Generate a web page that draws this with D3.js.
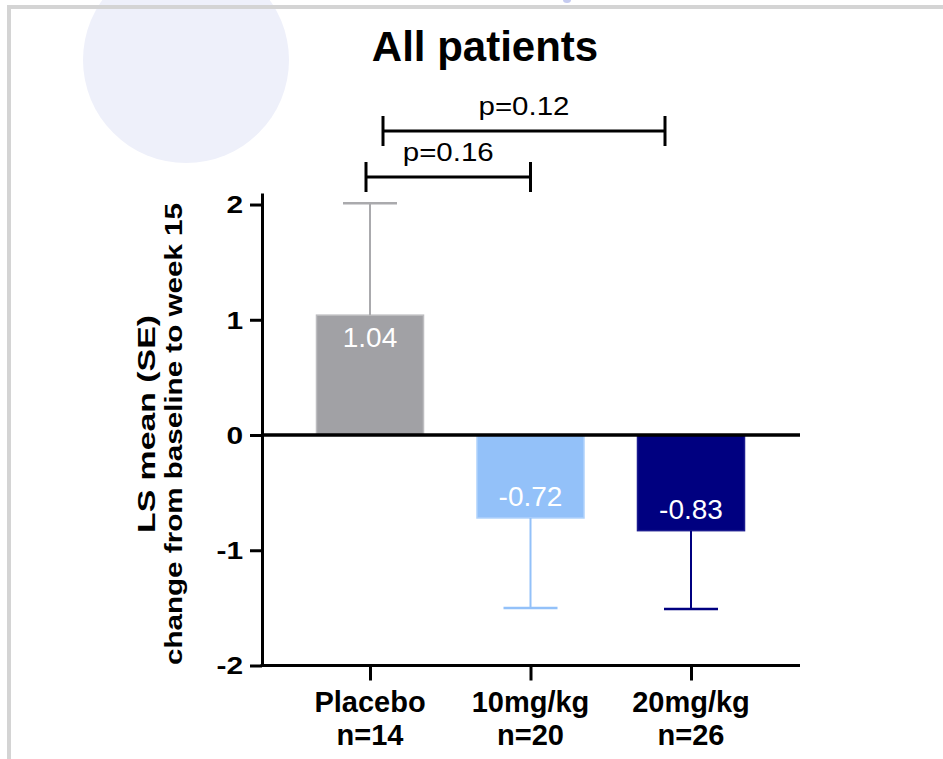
<!DOCTYPE html>
<html>
<head>
<meta charset="utf-8">
<script src="https://cdn.jsdelivr.net/npm/d3@7"></script>
<style>
  body { margin: 0; background: #fff; }
  svg { display: block; font-family: "Liberation Sans", Arial, sans-serif; }
</style>
</head>
<body>
<svg id="chart" width="943" height="759"></svg>
<script>
// data
const groups = ["Placebo", "10mg/kg", "20mg/kg"];
const nLabels = ["n=14", "n=20", "n=26"];
const means = [1.04, -0.72, -0.83];
const se = [0.97, 0.78, 0.68];
const yTicks = [-2, -1, 0, 1, 2];
const pLabels = ["p=0.12", "p=0.16"];
const pFrom = [0, 0];
const pTo = [2, 1];

const barColors = ["#a1a1a5", "#93c1f9", "#000080"];
const barEdge = ["#bdbdc0", "#b0d2fb", "#1b1b8f"];
const errColors = ["#aaaaad", "#93c1f9", "#000080"];

const svg = d3.select("#chart");

// background decoration: lavender disc + grey frame
svg.append("circle").attr("cx", 186).attr("cy", 60).attr("r", 103).attr("fill", "#eef0fa");
svg.append("ellipse").attr("cx", 567).attr("cy", 0).attr("rx", 4).attr("ry", 3).attr("fill", "#c5cbf0");
svg.append("rect").attr("x", 7).attr("y", 5).attr("width", 936).attr("height", 4).attr("fill", "#d4d4d4");
svg.append("rect").attr("x", 7).attr("y", 5).attr("width", 4).attr("height", 754).attr("fill", "#d4d4d4");

// scales
const y = d3.scaleLinear().domain([-2, 2.1]).range([665.5, 193]);
const x = d3.scalePoint().domain(groups).range([370, 691]);
const barW = 107;
const axisX = 262;
const axisRight = 800;

// title
svg.append("text")
  .attr("x", 485).attr("y", 61)
  .attr("text-anchor", "middle")
  .style("font-size", "42px").style("font-weight", "bold")
  .text("All patients");

// bars
svg.selectAll(".bar")
  .data(groups)
  .enter()
  .append("rect")
  .attr("class", "bar")
  .attr("x", (d) => x(d) - barW / 2)
  .attr("width", barW)
  .attr("y", (d, i) => y(Math.max(0, means[i])))
  .attr("height", (d, i) => Math.abs(y(means[i]) - y(0)))
  .attr("fill", (d, i) => barColors[i])
  .attr("stroke", (d, i) => barEdge[i])
  .attr("stroke-width", 1.5);

// error bars (one-sided, away from zero)
const errEnd = (i) => means[i] + Math.sign(means[i]) * se[i];
const err = svg.selectAll(".err").data(groups).enter().append("g").attr("class", "err");
err.append("line")
  .attr("x1", (d) => x(d)).attr("x2", (d) => x(d))
  .attr("y1", (d, i) => y(means[i])).attr("y2", (d, i) => y(errEnd(i)))
  .attr("stroke", (d, i) => errColors[i]).attr("stroke-width", 2);
err.append("line")
  .attr("x1", (d) => x(d) - 27).attr("x2", (d) => x(d) + 27)
  .attr("y1", (d, i) => y(errEnd(i))).attr("y2", (d, i) => y(errEnd(i)))
  .attr("stroke", (d, i) => errColors[i]).attr("stroke-width", 2.5);

// value labels inside the bar ends
svg.selectAll(".val")
  .data(groups)
  .enter()
  .append("text")
  .attr("class", "val")
  .attr("x", (d) => x(d))
  .attr("y", (d, i) => (means[i] > 0 ? y(means[i]) + 32 : y(means[i]) - 12))
  .attr("text-anchor", "middle")
  .attr("fill", "#fff")
  .style("font-size", "28px")
  .text((d, i) => means[i].toFixed(2));

// y axis
const yAxis = svg.append("g")
  .attr("transform", `translate(${axisX},0)`)
  .call(d3.axisLeft(y).tickValues(yTicks).tickSize(12).tickSizeOuter(0).tickPadding(5)
    .tickFormat((d) => String(d)));
yAxis.select(".domain").attr("stroke-width", 3);
yAxis.selectAll(".tick line").attr("stroke-width", 3);
// labels in the reference are drawn a bit wide: stretch horizontally
const tickStretch = 1.3;
yAxis.selectAll(".tick text")
  .attr("fill", "#000")
  .attr("x", -19 / tickStretch)
  .attr("dy", "0.36em")
  .attr("transform", `scale(${tickStretch},1)`)
  .style("font-size", "23px").style("font-weight", "bold")
  .style("font-family", "'Liberation Sans', Arial, sans-serif");

// zero line and bottom axis line
svg.append("line")
  .attr("x1", axisX).attr("x2", axisRight)
  .attr("y1", y(0)).attr("y2", y(0))
  .attr("stroke", "#000").attr("stroke-width", 3.5);
svg.append("line")
  .attr("x1", axisX - 1.5).attr("x2", axisRight)
  .attr("y1", y(-2)).attr("y2", y(-2))
  .attr("stroke", "#000").attr("stroke-width", 3);

// x ticks
const xAxis = svg.append("g")
  .attr("transform", `translate(0,${y(-2)})`)
  .call(d3.axisBottom(x).tickSize(15).tickSizeOuter(0).tickFormat(""));
xAxis.select(".domain").remove();
xAxis.selectAll(".tick line").attr("stroke-width", 3);

// x labels, two lines each
const xl = svg.selectAll(".xlab").data(groups).enter().append("text")
  .attr("class", "xlab")
  .attr("text-anchor", "middle")
  .style("font-size", "29px").style("font-weight", "bold");
xl.append("tspan").attr("x", (d) => x(d)).attr("y", 712).text((d) => d);
xl.append("tspan").attr("x", (d) => x(d)).attr("y", 745).text((d, i) => nLabels[i]);

// y axis title (two rotated lines)
const yTitle = [
  { text: "LS mean (SE)", x: 155, cy: 424, len: 218 },
  { text: "change from baseline to week 15", x: 182, cy: 434, len: 462 },
];
svg.selectAll(".ytitle").data(yTitle).enter().append("text")
  .attr("class", "ytitle")
  .attr("transform", (d) => `translate(${d.x},${d.cy}) rotate(-90)`)
  .attr("text-anchor", "middle")
  .attr("textLength", (d) => d.len)
  .attr("lengthAdjust", "spacingAndGlyphs")
  .style("font-size", "24px").style("font-weight", "bold")
  .text((d) => d.text);

// significance brackets
const bracketY = [131, 177];
const bracketOff = [[13, -26], [-4, 0]];
pLabels.forEach((label, k) => {
  const x1 = x(groups[pFrom[k]]) + bracketOff[k][0];
  const x2 = x(groups[pTo[k]]) + bracketOff[k][1];
  const by = bracketY[k];
  const g = svg.append("g").attr("stroke", "#000").attr("stroke-width", 3);
  g.append("line").attr("x1", x1).attr("x2", x2).attr("y1", by).attr("y2", by);
  g.append("line").attr("x1", x1).attr("x2", x1).attr("y1", by - 15).attr("y2", by + 15);
  g.append("line").attr("x1", x2).attr("x2", x2).attr("y1", by - 15).attr("y2", by + 15);
  svg.append("text")
    .attr("x", (x1 + x2) / 2).attr("y", by - 16)
    .attr("text-anchor", "middle")
    .attr("textLength", 91)
    .attr("lengthAdjust", "spacingAndGlyphs")
    .style("font-size", "25px")
    .text(label);
});
</script>
</body>
</html>
